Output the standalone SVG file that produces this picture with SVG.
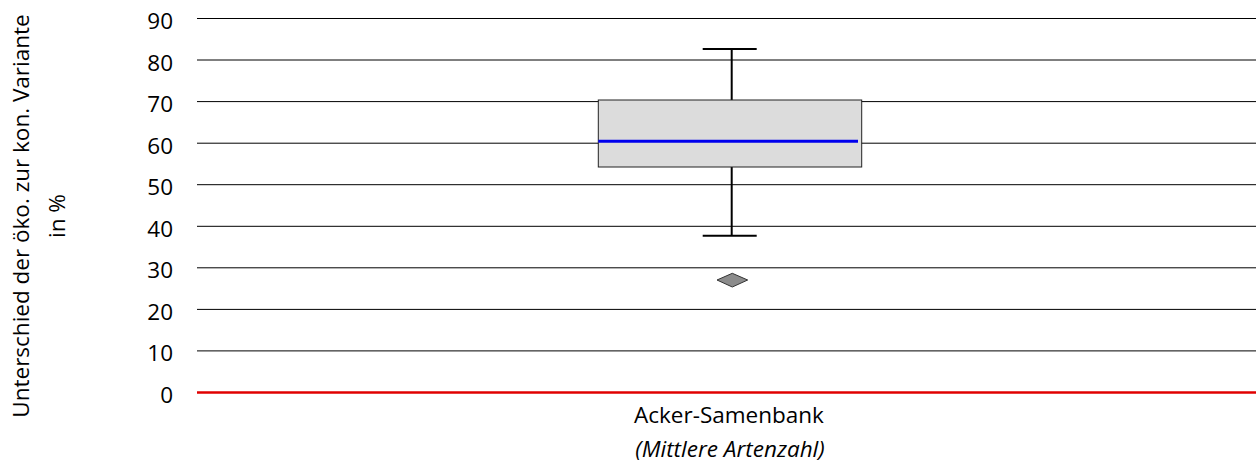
<svg xmlns="http://www.w3.org/2000/svg" width="1256" height="464" viewBox="0 0 1256 464">
<style>
text{font-family:"Open Sans","Liberation Sans",sans-serif;fill:#000}
.tick{font-size:22.5px;text-anchor:end}
.grid{stroke:#000;stroke-width:1}
.lbl{font-size:22.5px;text-anchor:middle}
.wh{stroke:#000;stroke-width:2}
</style>
<rect width="1256" height="464" fill="#fff"/>
<g id="grid">
<line class="grid" x1="197" y1="18.5" x2="1256" y2="18.5"/>
<line class="grid" x1="197" y1="60" x2="1256" y2="60"/>
<line class="grid" x1="197" y1="101.6" x2="1256" y2="101.6"/>
<line class="grid" x1="197" y1="143.2" x2="1256" y2="143.2"/>
<line class="grid" x1="197" y1="184.7" x2="1256" y2="184.7"/>
<line class="grid" x1="197" y1="226.3" x2="1256" y2="226.3"/>
<line class="grid" x1="197" y1="267.8" x2="1256" y2="267.8"/>
<line class="grid" x1="197" y1="309.4" x2="1256" y2="309.4"/>
<line class="grid" x1="197" y1="350.9" x2="1256" y2="350.9"/>
<line x1="197" y1="392.5" x2="1256" y2="392.5" stroke="#e00000" stroke-width="2.5"/>
</g>
<g id="ticks">
<text class="tick" x="173" y="29">90</text>
<text class="tick" x="173" y="70.5">80</text>
<text class="tick" x="173" y="112">70</text>
<text class="tick" x="173" y="153.7">60</text>
<text class="tick" x="173" y="195.2">50</text>
<text class="tick" x="173" y="236.8">40</text>
<text class="tick" x="173" y="278.3">30</text>
<text class="tick" x="173" y="319.9">20</text>
<text class="tick" x="173" y="361.4">10</text>
<text class="tick" x="173" y="403">0</text>
</g>
<g id="axis-title">
<text class="lbl" transform="translate(29,216) rotate(-90)">Unterschied der öko. zur kon. Variante</text>
<text class="lbl" transform="translate(65,216) rotate(-90)">in %</text>
</g>
<g id="connectors">
<line class="wh" x1="731.7" y1="49" x2="731.7" y2="100"/>
<line class="wh" x1="702.7" y1="49" x2="756.7" y2="49"/>
<line class="wh" x1="731.7" y1="167" x2="731.7" y2="235.7"/>
<line class="wh" x1="702.7" y1="235.7" x2="756.7" y2="235.7"/>
</g>
<g id="box">
<rect x="598.3" y="100" width="263.4" height="67" fill="#dcdcdc" stroke="#222" stroke-width="1"/>
<line x1="598.3" y1="141.2" x2="858" y2="141.2" stroke="#0000ee" stroke-width="3"/>
</g>
<g id="outlier">
<polygon points="717,280 732.3,273.3 747.7,280 732.3,287" fill="#8c8c8c" stroke="#333" stroke-width="1"/>
</g>
<g id="category">
<text class="lbl" x="729" y="423">Acker-Samenbank</text>
<text class="lbl" x="730" y="457" font-style="italic" font-size="23.5px">(Mittlere Artenzahl)</text>
</g>
</svg>
